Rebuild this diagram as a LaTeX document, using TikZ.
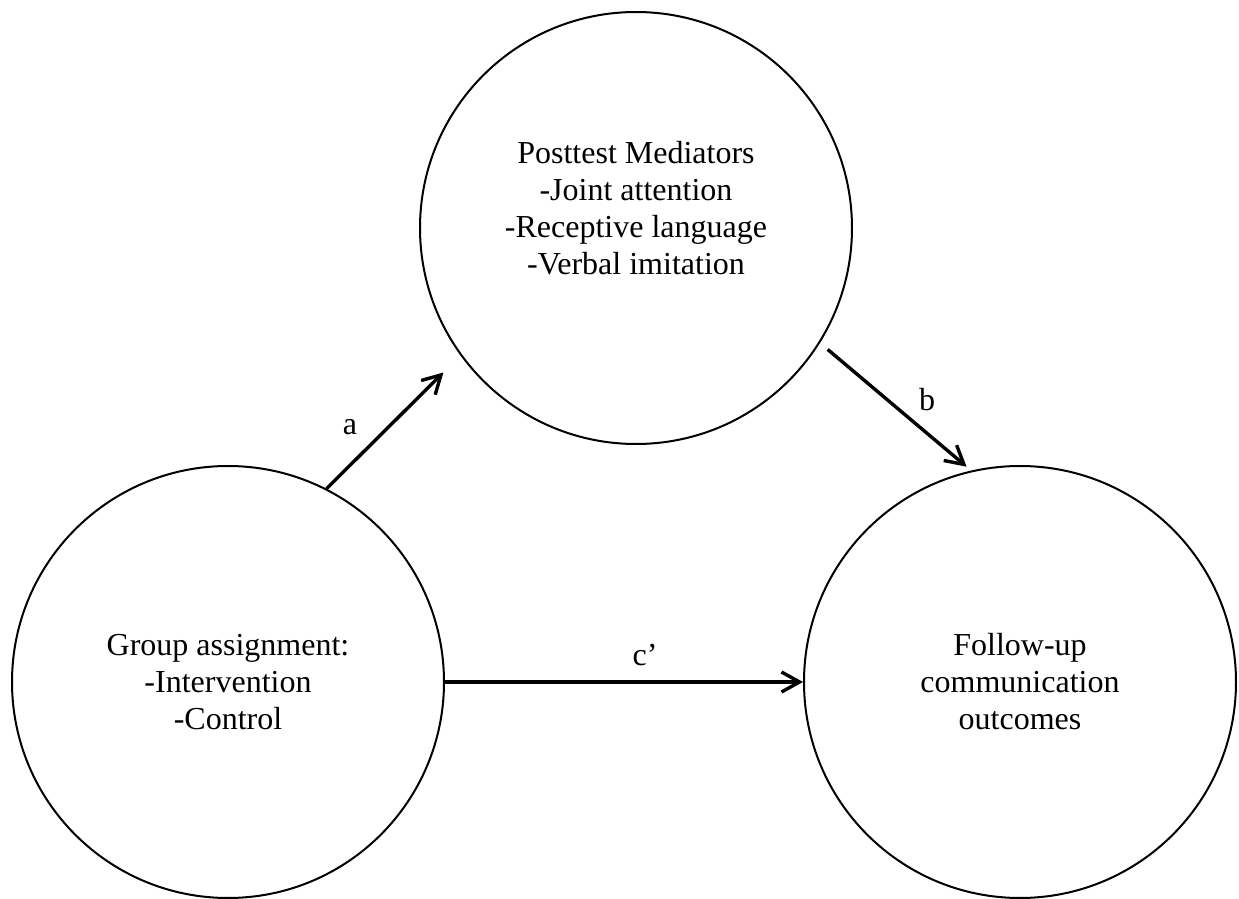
\documentclass[tikz,border=0pt]{standalone}
\usepackage{fontspec}
\setmainfont{Liberation Serif}
\usetikzlibrary{arrows.meta}

\begin{document}
\begin{tikzpicture}[x=0.5pt,y=0.5pt,yscale=-1,
	circ/.style={draw=black,line width=1pt,circle,minimum size=216pt,inner sep=0pt},
	txt/.style={font=\fontsize{16}{18.5}\selectfont,align=center,inner sep=0.75pt},
	conn/.style={draw=black,line width=1.7pt,-{Straight Barb[length=9pt,width=10pt]}}]
	\useasboundingbox (0,0) rectangle (1239,899);
	
	%Circles
	\node [circ] (med) at (636,228) {};
	\node [circ,txt] (group) at (228,682) {Group assignment:\\-Intervention\\-Control};
	\node [circ,txt] (outcome) at (1020,682) {Follow-up\\communication\\outcomes};
	% Text Node
	\node [txt] (medtext) at (636,208) {Posttest Mediators\\-Joint attention\\-Receptive language\\-Verbal imitation};
	
	%Arrows
	\draw [conn,shorten >=12pt] (group.63) -- (med.216);
	\draw [conn,shorten <=5pt,shorten >=3pt] (med.-32) -- (outcome.103);
	\draw [conn] (group.east) -- (outcome.west);
	
	% Text Node
	\node [txt] (lbla) at (350,427) {a};
	% Text Node
	\node [txt] (lblb) at (927,400) {b};
	% Text Node
	\node [txt] (lblc) at (645,655) {c’};
\end{tikzpicture}
\end{document}
